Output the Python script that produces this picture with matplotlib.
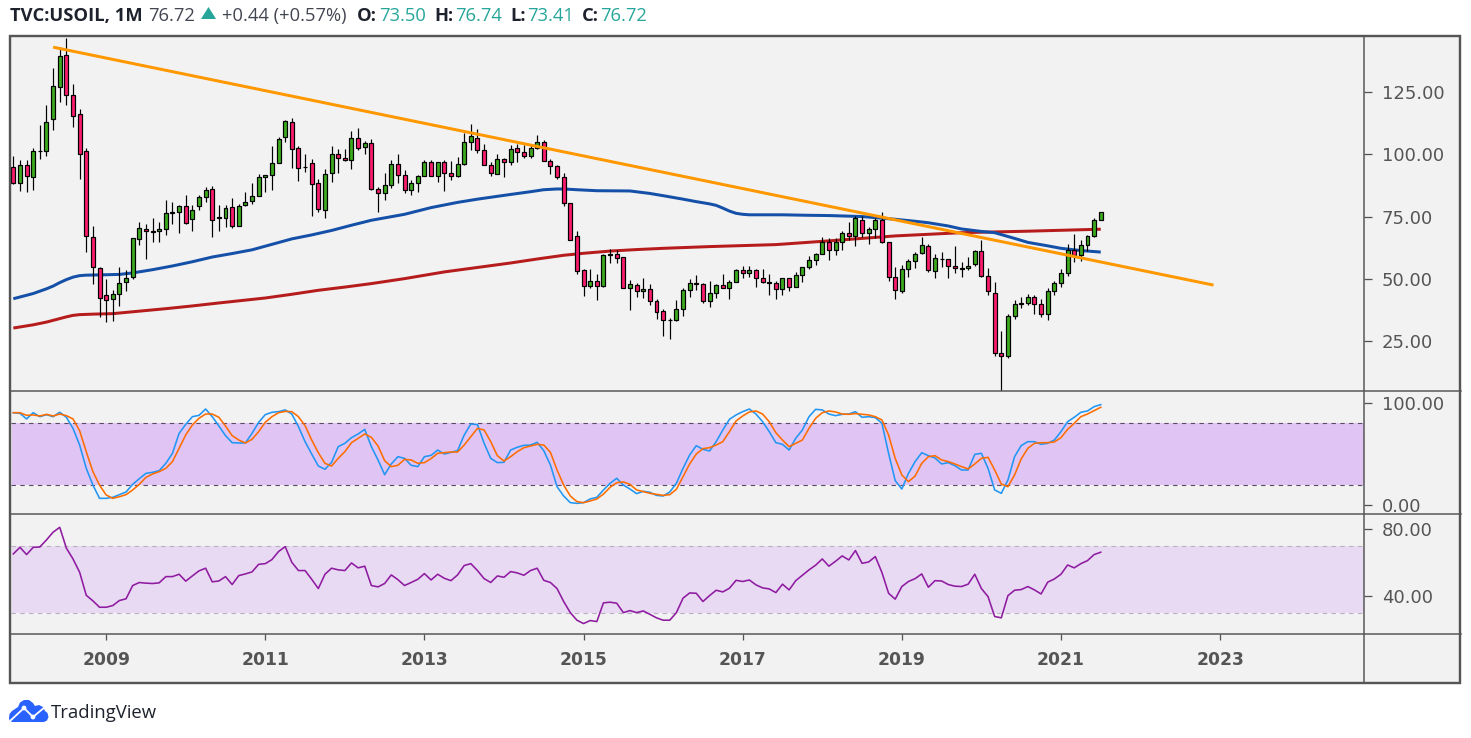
import matplotlib
matplotlib.use('Agg')
import matplotlib.pyplot as plt
from matplotlib.patches import Polygon, Circle, Rectangle

W, H = 1471, 738

# monthly candles, 2007-11 to 2021-07
opens = [94.9, 88.6, 95.9, 91.0, 101.4, 101.5, 114.4, 127.3, 140.2, 124.1, 116.4, 101.5, 66.9, 54.4, 43.5, 41.9, 43.9, 48.6, 50.8, 66.1,
         70.1, 69.3, 69.3, 70.1, 76.5, 77.0, 79.4, 74.1, 79.4, 83.0, 86.2, 74.8, 74.5, 79.0, 71.3, 79.8, 81.4, 83.4, 91.0, 91.9,
         96.7, 107.1, 113.2, 102.7, 95.1, 96.7, 88.6, 77.8, 92.7, 100.3, 98.7, 97.9, 106.7, 103.1, 104.7, 86.2, 84.6, 87.8, 96.3, 91.8,
         85.8, 88.6, 91.4, 97.1, 91.4, 97.1, 92.7, 91.4, 96.3, 105.1, 106.7, 101.9, 95.9, 92.3, 98.3, 97.1, 102.7, 101.1, 99.5, 102.7,
         105.1, 97.5, 95.5, 91.0, 80.6, 67.3, 53.6, 47.2, 49.2, 47.0, 59.6, 60.0, 58.8, 46.4, 47.6, 45.1, 45.9, 41.1, 37.1, 33.3,
         33.5, 37.9, 45.5, 48.4, 48.0, 41.1, 44.3, 47.6, 46.4, 48.8, 53.6, 52.4, 53.6, 50.4, 48.8, 48.4, 46.0, 50.1, 46.8, 51.3,
         54.6, 57.4, 59.8, 64.6, 61.4, 64.6, 68.3, 67.0, 73.5, 68.3, 69.9, 73.5, 64.6, 50.5, 44.9, 53.8, 57.0, 60.2, 63.0, 53.0,
         57.8, 57.8, 55.0, 53.8, 54.2, 55.8, 61.0, 50.9, 44.1, 19.9, 18.7, 34.8, 39.7, 40.1, 42.5, 39.7, 35.6, 44.9, 48.1, 52.1,
         61.4, 59.4, 63.4, 67.0, 73.50]
highs = [99.2, 97.6, 97.6, 102.7, 111.7, 119.8, 134.9, 143.3, 147.0, 128.5, 118.4, 102.7, 71.3, 54.7, 50.0, 45.3, 54.7, 53.6, 66.5, 72.8,
         72.1, 74.5, 72.8, 81.8, 81.0, 79.5, 83.8, 79.5, 83.5, 86.9, 87.1, 79.8, 79.5, 82.6, 79.9, 84.7, 88.5, 92.0, 91.9, 103.3,
         107.0, 114.0, 114.5, 103.3, 100.3, 98.3, 90.2, 94.3, 103.3, 102.3, 102.3, 109.4, 110.5, 105.4, 106.3, 86.9, 92.7, 97.9, 100.3, 93.6,
         89.6, 91.8, 97.9, 97.9, 97.1, 97.6, 97.2, 99.0, 108.6, 112.1, 110.4, 104.1, 96.9, 100.3, 98.7, 103.7, 104.3, 103.7, 104.3, 107.7,
         105.9, 98.3, 95.6, 92.7, 80.6, 69.3, 54.0, 54.0, 52.0, 60.0, 62.0, 61.7, 58.8, 49.3, 48.4, 50.4, 48.0, 41.9, 37.9, 34.3,
         41.5, 46.4, 50.0, 51.3, 48.2, 48.9, 48.0, 51.7, 49.3, 54.0, 54.9, 54.9, 54.0, 53.7, 51.7, 48.9, 50.1, 50.1, 52.6, 54.6,
         59.1, 60.5, 66.6, 66.2, 66.2, 69.3, 72.9, 75.2, 75.2, 70.7, 74.3, 76.7, 64.9, 54.6, 55.5, 57.8, 60.6, 66.9, 64.0, 59.8,
         60.7, 57.9, 63.2, 56.6, 58.7, 61.5, 65.6, 54.2, 48.5, 28.9, 35.8, 41.4, 42.6, 43.8, 43.4, 41.7, 46.1, 49.1, 53.8, 64.0,
         68.0, 65.6, 67.6, 74.3, 76.74]
lows = [88.0, 85.3, 84.9, 85.5, 98.2, 99.4, 109.7, 121.1, 119.8, 111.0, 90.1, 60.7, 47.7, 34.6, 32.5, 32.9, 38.8, 44.9, 49.8, 63.4,
        57.9, 64.7, 64.7, 67.4, 71.9, 68.4, 71.9, 69.2, 77.5, 80.8, 66.8, 69.2, 70.8, 70.5, 71.0, 79.1, 79.9, 83.1, 84.9, 85.5,
        96.5, 105.0, 94.5, 89.3, 92.9, 75.2, 76.8, 74.4, 88.9, 92.5, 97.4, 94.3, 101.9, 100.2, 85.8, 76.8, 81.5, 86.5, 88.5, 84.5,
        83.7, 84.9, 91.3, 91.3, 88.9, 85.3, 89.8, 90.9, 95.6, 101.6, 100.6, 95.9, 91.2, 92.3, 90.9, 95.6, 96.9, 98.6, 98.6, 102.3,
        97.4, 92.0, 90.2, 79.2, 65.7, 52.0, 42.9, 46.4, 41.3, 46.6, 56.2, 56.2, 46.4, 37.2, 42.6, 42.2, 39.2, 33.6, 26.9, 25.7,
        32.9, 34.8, 42.6, 45.3, 40.2, 38.6, 42.2, 46.2, 41.8, 48.6, 50.2, 50.7, 46.6, 48.2, 43.4, 41.8, 43.4, 45.2, 46.5, 48.8,
        53.8, 55.6, 59.8, 57.5, 59.5, 61.5, 65.6, 63.3, 66.6, 64.0, 66.2, 64.5, 49.2, 41.9, 44.1, 50.5, 54.4, 59.9, 52.8, 50.4,
        54.6, 50.4, 52.4, 50.8, 53.5, 55.2, 50.8, 43.6, 19.0, 4.0, 17.9, 33.9, 38.3, 39.3, 35.8, 34.7, 33.5, 43.6, 46.8, 51.2,
        56.8, 57.2, 61.3, 66.6, 73.41]
closes = [88.5, 95.9, 91.4, 101.5, 101.5, 113.2, 127.7, 139.8, 124.1, 115.5, 100.3, 67.3, 54.6, 42.3, 41.5, 43.9, 48.4, 50.4, 66.5, 70.5,
          69.3, 68.9, 70.1, 76.5, 77.0, 79.4, 72.5, 77.8, 83.0, 85.8, 73.7, 74.5, 78.6, 71.3, 79.4, 81.0, 83.4, 91.0, 91.9, 96.7,
          106.3, 113.6, 102.3, 94.7, 94.8, 88.2, 78.2, 92.3, 100.3, 98.7, 97.9, 106.7, 102.7, 104.7, 86.1, 84.6, 87.8, 96.3, 91.8, 85.8,
          88.6, 91.4, 97.1, 91.4, 97.1, 92.7, 91.4, 96.3, 105.1, 107.5, 101.9, 95.9, 92.7, 98.3, 97.1, 102.3, 101.1, 99.5, 102.7, 105.1,
          97.4, 95.5, 91.0, 80.6, 65.7, 53.2, 47.2, 49.2, 47.2, 59.6, 60.0, 58.4, 46.4, 48.0, 45.1, 45.9, 41.1, 36.7, 33.5, 33.5,
          37.9, 45.5, 48.4, 48.0, 41.1, 44.3, 47.6, 46.4, 48.8, 53.6, 52.4, 53.6, 50.4, 48.8, 48.4, 45.9, 50.1, 46.8, 51.3, 54.6,
          57.4, 59.8, 64.6, 61.4, 64.6, 68.3, 67.0, 74.3, 68.3, 69.9, 73.5, 64.6, 50.5, 45.3, 53.8, 57.0, 59.8, 63.4, 53.4, 58.2,
          57.8, 55.0, 54.2, 54.2, 55.0, 61.0, 51.2, 44.9, 19.9, 18.7, 34.8, 39.7, 40.1, 42.5, 39.7, 35.6, 44.9, 48.1, 52.1, 61.4,
          59.4, 63.4, 67.0, 73.5, 76.72]

# moving averages, read at a few months
blue_months = [0, 3, 5, 6, 7, 8, 9, 10, 11, 13, 16, 18, 21, 24, 27, 30, 33, 36, 39, 42, 45, 48, 51, 54, 59, 63, 67, 70, 75, 78, 80, 82, 83, 85, 88, 93, 96, 98, 101, 103, 105, 106, 107, 108, 109, 110, 111, 113, 116, 120, 123, 128, 133, 136, 138, 141, 143, 146, 148, 151, 153, 156, 158, 161, 164]
blue_ma = [41.9, 44.0, 45.9, 47.0, 48.4, 49.6, 50.6, 51.2, 51.4, 51.5, 51.7, 52.3, 53.6, 55.1, 56.8, 58.7, 60.1, 61.6, 63.8, 66.0, 67.6, 69.4, 71.5, 73.5, 75.9, 78.6, 80.7, 82.0, 83.9, 85.0, 85.8, 86.1, 86.1, 85.8, 85.4, 85.3, 84.3, 83.4, 82.0, 81.0, 80.1, 79.5, 78.4, 77.2, 76.3, 75.9, 75.7, 75.7, 75.7, 75.5, 75.4, 75.0, 73.9, 73.1, 72.5, 71.2, 70.0, 69.0, 68.5, 66.2, 64.6, 63.2, 62.2, 61.3, 60.7]
red_months = [0, 3, 5, 7, 8, 9, 10, 12, 15, 19, 23, 27, 31, 38, 42, 46, 50, 54, 59, 65, 70, 75, 79, 83, 86, 90, 94, 98, 105, 115, 123, 128, 133, 143, 153, 164]
red_ma = [30.1, 31.4, 32.5, 33.9, 34.6, 35.2, 35.5, 35.7, 35.9, 36.9, 37.9, 39.0, 40.2, 42.2, 43.7, 45.3, 46.6, 48.0, 50.0, 52.7, 54.5, 56.3, 57.9, 59.4, 60.2, 61.1, 61.7, 62.2, 62.9, 63.7, 65.2, 66.2, 67.2, 68.5, 69.1, 69.9]

# the drawn trendline
trend_months = [6, 181]
trend_prices = [143.2, 47.4]

stoch_k = [90.5, 89.9, 84.4, 90.5, 86.6, 88.6, 86.6, 90.9, 86.0, 75.2, 58.9, 36.1, 19.8, 6.8, 6.8, 7.8, 10.4, 13.0, 20.5, 26.0,
           31.2, 32.2, 33.9, 41.0, 50.8, 70.3, 79.1, 86.6, 87.9, 94.1, 86.6, 77.5, 68.1, 61.2, 60.9, 60.9, 70.3, 81.1, 88.6, 90.9,
           91.5, 93.2, 89.2, 76.9, 62.2, 50.1, 38.4, 35.2, 42.0, 57.3, 60.6, 66.1, 69.7, 74.2, 57.3, 44.3, 29.9, 40.4, 47.5, 45.9,
           39.1, 37.8, 47.5, 48.8, 54.0, 50.1, 51.8, 53.4, 68.7, 79.5, 78.8, 60.6, 45.9, 41.7,
           42.0, 54.0, 56.7, 58.6, 58.9, 61.5, 53.4, 39.4, 18.2, 9.1, 2.6, 1.9, 2.6, 6.2, 7.8, 15.0, 21.5, 26.4, 19.8, 15.9,
           11.4, 13.7, 12.7, 9.7, 9.1, 13.0, 21.5, 36.1, 49.2, 58.3, 54.7, 53.1, 62.2, 73.6, 84.0, 88.3, 91.5, 94.1, 89.2, 81.7,
           72.0, 61.2, 59.6, 54.0, 65.5, 73.6, 86.6, 93.8, 93.2, 89.2, 87.6, 88.9, 89.2, 91.5, 86.0, 86.6, 85.7, 80.1, 50.8, 24.1,
           15.9, 31.2, 42.7, 51.4, 48.5, 46.2, 40.4, 41.7, 38.7, 34.5, 34.5, 49.8, 50.8, 36.1, 15.0, 11.7, 24.7, 47.5, 58.3, 62.2,
           62.2, 59.6, 60.6, 63.8, 72.0, 81.7, 86.0, 90.9, 92.2, 96.4, 98.4]
stoch_d = [90.5, 90.5, 87.9, 88.3, 87.3, 88.9, 87.3, 89.2, 87.6, 84.4, 72.9, 52.4, 32.9, 19.8, 10.1, 6.8, 8.4, 10.4, 15.0, 20.5,
           27.3, 30.6, 32.9, 36.1, 42.7, 55.7, 68.7, 78.5, 85.0, 89.2, 89.2, 86.0, 77.5, 68.1, 63.8, 60.9, 64.5, 72.0, 81.1, 86.6,
           90.5, 91.8, 91.5, 86.6, 77.8, 63.8, 51.4, 41.0, 38.4, 45.9, 52.4, 61.2, 65.5, 69.7, 66.4, 58.0, 43.6, 37.8, 39.1, 44.9,
           44.3, 41.0, 41.7, 45.6, 50.8, 51.4, 52.1, 52.1, 58.9, 67.1, 75.2, 73.6, 62.2, 48.5,
           43.3, 47.5, 52.4, 56.3, 58.0, 59.6, 58.9, 51.8, 34.5, 19.8, 9.1, 3.6, 2.6, 4.2, 6.2, 11.0, 17.6, 22.1, 22.8, 20.5,
           15.0, 13.3, 11.7, 10.7, 9.7, 10.4, 15.6, 28.0, 40.4, 50.1, 55.4, 56.3, 58.9, 62.2, 72.0, 82.4, 87.3, 91.2, 92.2, 89.2,
           81.7, 71.0, 63.8, 57.3, 60.6, 63.8, 75.2, 85.0, 90.5, 92.2, 91.2, 89.2, 88.9, 89.6, 88.9, 88.3, 86.6, 83.4, 68.7, 45.9,
           29.6, 23.1, 28.6, 41.0, 47.5, 48.5, 44.3, 42.7, 40.4, 37.8, 35.5, 40.4, 45.9, 46.9, 34.5, 20.8, 18.2, 29.6, 45.3, 55.7,
           60.6, 61.2, 61.2, 61.9, 66.1, 74.2, 80.1, 86.6, 89.2, 92.5, 95.8]
rsi = [65.2, 69.1, 64.8, 69.1, 69.3, 73.5, 78.1, 81.0, 68.6, 62.2, 54.3, 40.6, 37.3, 33.5, 33.5, 34.5, 37.5, 38.5, 46.4, 48.2,
       47.8, 47.6, 48.0, 51.7, 51.7, 53.1, 49.0, 52.1, 55.1, 56.7, 48.6, 49.1, 51.7, 47.0, 52.3, 53.3, 54.5, 59.0, 59.4, 61.8,
       66.6, 69.5, 60.2, 55.3, 55.3, 50.1, 44.6, 53.1, 56.7, 55.7, 55.3, 59.8, 56.9, 57.9, 46.4, 45.6, 47.6, 52.7, 49.9, 46.4,
       48.2, 50.1, 53.5, 49.7, 53.1, 50.7, 49.3, 52.7, 58.3, 59.4, 55.3, 50.5, 48.2, 52.1,
       51.3, 54.7, 53.9, 52.5, 55.3, 56.7, 49.5, 48.2, 44.6, 36.9, 30.3, 25.8, 23.8, 25.6, 25.0, 36.1, 36.5, 35.9, 30.3, 31.5,
       30.3, 31.3, 29.3, 27.2, 25.8, 25.8, 30.3, 38.9, 42.0, 41.8, 36.9, 40.4, 43.6, 42.6, 44.8, 49.5, 48.8, 49.7, 46.8, 45.0,
       44.4, 42.2, 47.2, 43.8, 49.3, 52.5, 55.7, 58.5, 62.2, 57.9, 60.8, 64.0, 61.6, 67.2, 59.6, 60.4, 63.6, 54.1, 41.8, 38.3,
       45.8, 48.8, 50.5, 53.3, 45.4, 49.3, 49.1, 47.0, 46.0, 45.8, 47.2, 53.1, 44.6, 39.8, 28.0, 27.2, 40.4, 43.6, 44.0, 45.8,
       43.8, 41.4, 48.4, 50.3, 53.1, 58.6, 56.9, 59.4, 61.2, 64.8, 66.2]

price_ticks = [25, 50, 75, 100, 125]
stoch_ticks = [0, 100]
rsi_ticks = [40, 80]
year_labels = ['2009', '2011', '2013', '2015', '2017', '2019', '2021', '2023']
year_months = [14, 38, 62, 86, 110, 134, 158, 182]

BG = '#F2F2F2'
LINE = '#555555'
TEXT = '#555555'
DARK = '#1E222D'
TEAL = '#26A69A'
PX = 72 / 100  # one pixel in points

plt.rcParams['font.family'] = ['DejaVu Sans']

fig = plt.figure(figsize=(W / 100, H / 100), dpi=100, facecolor='white')


def pane(top, bottom, left=11, right=1364):
    ax = fig.add_axes([left / W, 1 - bottom / H, (right - left) / W, (bottom - top) / H])
    ax.patch.set_visible(False)
    for s in ax.spines.values():
        s.set_visible(False)
    ax.set_xlim(-0.35, 203.7)
    ax.yaxis.tick_right()
    ax.tick_params(axis='y', length=8 * PX, width=1.3 * PX, color=LINE, labelcolor=TEXT,
                   labelsize=13, pad=7)
    ax.set_xticks([])
    ax.yaxis.set_major_formatter(lambda v, pos: '%.2f' % v)
    return ax


# frame, all in pixels
frame = fig.add_axes([0, 0, 1, 1], zorder=0)
frame.set_xlim(0, W)
frame.set_ylim(H, 0)
frame.axis('off')
frame.add_patch(Rectangle((10, 36), 1451, 647, facecolor=BG, edgecolor='none'))

ax_main = pane(36, 391)
ax_main.set_ylim(4.75, 147.7)
ax_stoch = pane(391, 514)
ax_stoch.set_ylim(-8.5, 111.7)
ax_rsi = pane(514, 634)
ax_rsi.set_ylim(17.6, 88.9)

# price pane
months = list(range(len(closes)))
colors = ['#3CAA1E' if c >= o else '#F81C6C' for o, c in zip(opens, closes)]
bottoms = [min(o, c) for o, c in zip(opens, closes)]
heights = [abs(o - c) for o, c in zip(opens, closes)]
ax_main.plot(red_months, red_ma, color='#B71C1C', lw=3 * PX, zorder=2, solid_capstyle='butt')
ax_main.plot(blue_months, blue_ma, color='#1450A8', lw=3 * PX, zorder=2, solid_capstyle='butt')
ax_main.vlines(months, lows, highs, color='black', lw=1.2 * PX, zorder=3)
ax_main.bar(months, heights, bottom=bottoms, width=0.6, color=colors, edgecolor='black',
            linewidth=1.2 * PX, zorder=4)
ax_main.plot(trend_months, trend_prices, color='#FF9800', lw=3 * PX, zorder=5, solid_capstyle='butt')
ax_main.set_yticks(price_ticks)

# stochastic
ax_stoch.axhspan(20, 80, xmin=0.001, color='#E0C5F4', lw=0, zorder=1)
for level in (20, 80):
    ax_stoch.axhline(level, color='#5A4A66', lw=1.1 * PX, dashes=(4, 4), zorder=2)
ax_stoch.plot(months, stoch_k, color='#2196F3', lw=1.6 * PX, zorder=3)
ax_stoch.plot(months, stoch_d, color='#FF6D00', lw=1.6 * PX, zorder=4)
ax_stoch.set_yticks(stoch_ticks)

# rsi
ax_rsi.axhspan(30, 70, xmin=0.001, color='#E9DAF4', lw=0, zorder=1)
for level in (30, 70):
    ax_rsi.axhline(level, color='#B9B0C0', lw=1.1 * PX, dashes=(4, 4), zorder=2)
ax_rsi.plot(months, rsi, color='#8E1BA0', lw=1.6 * PX, zorder=3)
ax_rsi.set_yticks(rsi_ticks)
ax_rsi.set_xticks(year_months)
ax_rsi.set_xticklabels(year_labels, fontweight='bold', fontsize=12.3, color=TEXT)
ax_rsi.tick_params(axis='x', length=6 * PX, width=1.3 * PX, color=LINE, pad=8)

# separators on top
top = fig.add_axes([0, 0, 1, 1], zorder=5)
top.set_xlim(0, W)
top.set_ylim(H, 0)
top.axis('off')
for y in (391, 514, 634):
    top.plot([10, 1461], [y, y], color=LINE, lw=1.5 * PX)
top.plot([1364, 1364], [36, 683], color=LINE, lw=1.5 * PX)
top.add_patch(Rectangle((10.5, 36), 1450, 647, facecolor='none', edgecolor=LINE, lw=2.4 * PX))

# header
hdr = dict(family=['Open Sans', 'DejaVu Sans'], fontsize=13.2, va='center_baseline')
y_hdr = 14
top.text(10, y_hdr, 'TVC:USOIL, 1M', color=DARK, fontweight='bold', **hdr)
top.text(148, y_hdr, '76.72', color='#434651', **hdr)
top.add_patch(Polygon([[201, 19], [216, 19], [208.5, 7]], color=TEAL, lw=0))
top.text(222, y_hdr, '+0.44 (+0.57%)', color='#434651', **hdr)
for lx, lab, vx, val in [(357, 'O:', 379, '73.50'), (434, 'H:', 455, '76.74'),
                         (510, 'L:', 527, '73.41'), (582, 'C:', 600, '76.72')]:
    top.text(lx, y_hdr, lab, color=DARK, fontweight='bold', **hdr)
    top.text(vx, y_hdr, val, color=TEAL, **hdr)

# logo
cloud = [[9, 718], [9.5, 714], [12, 711], [15, 709], [18, 707], [20, 702.5], [24, 700], [29, 700],
         [33, 703], [35, 706], [39, 705], [43, 707], [45, 711], [47.5, 713], [48.5, 717], [47, 720.5], [44, 722],
         [12, 722], [9.5, 720.5]]
top.add_patch(Polygon(cloud, closed=True, color='#2962FF', lw=0))
top.plot([10, 24, 33, 45], [721, 708, 717, 707], color='white', lw=1.3)
top.add_patch(Circle((24, 708), 2.4, color='white', lw=0))
top.add_patch(Circle((33, 717), 2.4, color='white', lw=0))
top.text(51, 711, 'TradingView', color=DARK, family=['Open Sans', 'DejaVu Sans'],
         fontsize=13.3, va='center_baseline')

fig.savefig('out.png', dpi=100)
